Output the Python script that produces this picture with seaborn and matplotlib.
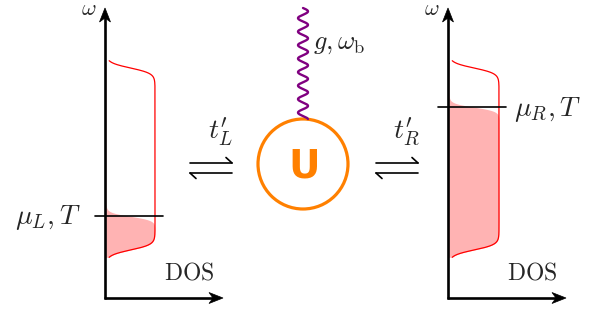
import numpy as np
import matplotlib
matplotlib.use("Agg")
import matplotlib.pyplot as plt
from matplotlib.patches import Circle, Polygon
import seaborn as sns

# reservoir parameters (energies in units of the half band width)
leads = ["L", "R"]
band_edges = [-1.0, 1.0]
chem_pot = [-0.63, 0.57]      # mu_L, mu_R
kT = 0.022
edge_smear = 0.03
dos_height = [49, 50]

sns.set_theme(style="white")
plt.rcParams["mathtext.fontset"] = "cm"
plt.rcParams["font.family"] = ["DejaVu Sans"]

fig = plt.figure(figsize=(6.07, 3.16), dpi=100)
ax = fig.add_axes([0, 0, 1, 1])
ax.set_xlim(0, 607)
ax.set_ylim(316, 0)
ax.axis("off")

# panel layout (pixels)
x_axis = [105, 448]
y_base = 298
y_mid = 159
px_per_unit = 91

def dos(w):
    lo, hi = band_edges
    return 1.0 / ((1 + np.exp((w - hi) / edge_smear)) * (1 + np.exp((lo - w) / edge_smear)))

def fermi(w, mu):
    return 1.0 / (1 + np.exp((w - mu) / kT))

def stealth(tip, direction, length=14, half=5.5, notch=4):
    tx, ty = tip
    dx, dy = direction
    nx, ny = -dy, dx
    pts = [(tx, ty),
           (tx - dx * length + nx * half, ty - dy * length + ny * half),
           (tx - dx * (length - notch), ty - dy * (length - notch)),
           (tx - dx * length - nx * half, ty - dy * length - ny * half)]
    ax.add_patch(Polygon(pts, closed=True, fc="black", ec="black", lw=0.5, zorder=5))

w = np.linspace(-1.08, 1.08, 600)
ypix = y_mid - px_per_unit * w

for i, lead in enumerate(leads):
    x0 = x_axis[i]
    mu = chem_pot[i]
    xd = x0 + 1 + dos_height[i] * dos(w)
    xf = x0 + 1 + dos_height[i] * dos(w) * fermi(w, mu)
    ax.fill_betweenx(ypix, x0, xf, color="#ffb3b3", lw=0)
    sns.lineplot(x=xd, y=ypix, sort=False, estimator=None, color="red", lw=0.9, ax=ax)
    ymu = y_mid - px_per_unit * mu
    ax.plot([x0 - 10, x0 + 58], [ymu, ymu], color="black", lw=1.2)
    # axes
    ax.plot([x0, x0], [y_base + 1, 16], color="black", lw=1.9, solid_capstyle="butt")
    ax.plot([x0 - 1, x0 + 110], [y_base, y_base], color="black", lw=1.9, solid_capstyle="butt")
    stealth((x0, 8), (0, -1))
    stealth((x0 + 118, y_base), (1, 0))
    ax.text(x0 - 16, 9, r"$\omega$", fontsize=16, ha="center", va="center")
    ax.text(x0 + 84, 272, r"$\mathrm{DOS}$", fontsize=17, ha="center", va="center")
    if lead == "L":
        ax.text(x0 - 57, 218, r"$\mu_L, T$", fontsize=20, ha="center", va="center")
    else:
        ax.text(x0 + 100, 109, r"$\mu_R, T$", fontsize=20, ha="center", va="center")

# hopping harpoons
for xc, lab in [(211, r"$t_L^{\prime}$"), (397, r"$t_R^{\prime}$")]:
    ax.plot([xc - 21, xc + 21], [163, 163], color="black", lw=1.2)
    ax.plot([xc + 21, xc + 15], [163, 157.5], color="black", lw=1.2)
    ax.plot([xc - 21, xc + 21], [173, 173], color="black", lw=1.2)
    ax.plot([xc - 21, xc - 15], [173, 178.5], color="black", lw=1.2)
    ax.text(xc + 9, 132, lab, fontsize=20, ha="center", va="center")

# interacting dot
ax.add_patch(Circle((303, 164), 45, fill=False, ec="#ff8000", lw=2.3))
ax.text(304, 166, "U", fontsize=28, fontweight="bold", color="#ff8000",
        ha="center", va="center")

# boson line
yb = np.linspace(8, 119, 400)
xb = 303 + 5 * np.sin(2 * np.pi * (yb - 8) / 13.5)
ax.plot(xb, yb, color="#800080", lw=1.7)
ax.text(313, 43, r"$g, \omega_{\mathrm{b}}$", fontsize=19, ha="left", va="center")

fig.savefig("out.png", dpi=100)
